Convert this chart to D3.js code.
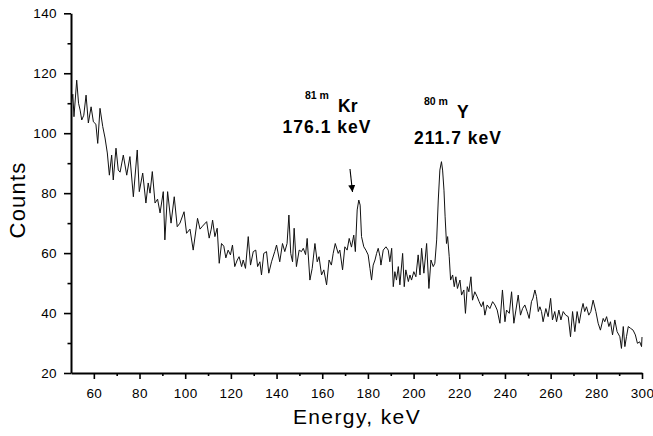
<!DOCTYPE html>
<html>
<head>
<meta charset="utf-8">
<script src="https://d3js.org/d3.v7.min.js"></script>
<style>
  html, body { margin: 0; padding: 0; background: #fff; }
  svg { display: block; font-family: "Liberation Sans", Arial, sans-serif; }
  .axis path, .axis line { stroke: #000; }
  .axis text { font-size: 13.5px; letter-spacing: 0.4px; fill: #000; }
  .note { font-weight: bold; fill: #000; }
</style>
</head>
<body>
<svg id="chart" width="653" height="436"></svg>
<script>
// energy (keV) and counts
var energy = [
  50.2, 50.8, 51.3, 52.5, 53.3, 54.0, 54.7, 55.6, 56.6, 57.6, 58.8, 59.8, 60.9, 61.7, 62.7, 63.9,
  64.9, 65.9, 66.8, 67.8, 68.5, 69.7, 70.7, 71.5, 72.9, 74.4, 75.8, 77.3, 79.0, 79.9, 81.4, 82.8,
  83.8, 84.6, 85.6, 86.8, 87.9, 89.0, 90.4, 91.1, 92.3, 93.8, 95.2, 96.5, 97.7, 99.5, 100.6, 102.1,
  103.5, 105.4, 106.5, 107.6, 109.4, 110.5, 111.4, 112.0, 113.0, 114.0, 114.9, 115.9, 116.9, 117.8,
  118.8, 119.8, 120.7, 121.7, 122.8, 123.6, 124.7, 125.4, 126.4, 127.6, 128.6, 129.8, 130.9, 131.7,
  132.7, 133.4, 134.4, 135.6, 136.6, 137.8, 139.2, 140.0, 141.4, 142.6, 143.6, 144.6, 145.4, 146.2,
  147.0, 147.7, 148.7, 149.9, 150.9, 151.7, 152.7, 153.4, 154.6, 155.6, 156.8, 157.8, 158.6, 159.7,
  160.7, 161.9, 163.0, 164.0, 164.8, 165.7, 167.0, 167.7, 168.9, 169.9, 170.9, 171.8, 172.8, 173.8,
  174.5, 175.3, 176.0, 176.6, 177.2, 178.2, 179.1, 180.1, 180.9, 181.6, 182.3, 183.1, 183.8, 184.5,
  185.3, 185.7, 186.7, 187.9, 188.9, 189.6, 190.4, 191.1, 191.8, 192.5, 193.3, 194.0, 195.2, 195.9,
  196.6, 197.7, 198.4, 199.1, 200.1, 201.0, 202.0, 202.8, 203.5, 204.5, 205.7, 206.7, 207.6, 208.6,
  209.3, 210.1, 210.8, 211.5, 212.2, 212.7, 213.3, 213.8, 214.4, 214.9, 215.6, 216.2, 217.1, 217.8,
  218.5, 219.2, 220.3, 221.0, 222.0, 222.7, 223.5, 224.2, 225.1, 225.8, 226.8, 227.8, 228.7, 229.7,
  230.5, 231.2, 232.2, 233.4, 234.6, 235.6, 236.6, 237.8, 238.9, 240.0, 240.7, 241.9, 242.9, 243.9,
  244.8, 245.8, 246.8, 247.7, 248.7, 249.7, 250.6, 251.6, 252.3, 253.1, 253.8, 254.6, 255.3, 256.0,
  256.7, 257.9, 258.9, 260.0, 260.8, 261.8, 262.6, 263.6, 264.5, 265.5, 266.6, 267.7, 268.7, 269.6,
  270.6, 271.6, 272.5, 273.5, 274.2, 274.9, 275.7, 276.7, 277.6, 278.6, 279.8, 280.8, 281.8, 283.0,
  283.7, 284.5, 285.5, 286.2, 287.1, 288.1, 289.1, 290.3, 291.0, 291.8, 292.5, 293.2, 294.0, 295.0,
  296.1, 297.1, 298.0, 299.0, 299.8, 300.0
];
var counts = [
  110, 113, 105.5, 117.7, 110, 107.7, 104.4, 106, 112.7, 103.4, 108.8, 103.8, 103, 96.6, 108.3, 102.2,
  98.4, 93.4, 86, 92.7, 84.4, 95, 87.7, 87, 92.7, 86, 92.2, 78.8, 94.4, 80.5, 86.7, 76.7,
  83.4, 80, 87.2, 76.7, 78, 73.4, 80.5, 64.4, 80.5, 70, 78.8, 68.8, 70, 73.8, 66.6, 68,
  61, 71.6, 68, 69, 70.5, 65, 68, 71, 65.5, 68.3, 56.6, 63.2, 62.3, 58.4,
  61, 59.4, 62.7, 55.5, 57.7, 58.8, 55.5, 57.7, 54.9, 65.5, 56, 60.5, 61, 55.5,
  57.1, 52.7, 59.9, 60.5, 53.3, 57.1, 60.5, 62.7, 57.1, 63.2, 60.5, 63.2, 72.7, 59.9,
  57.1, 68.3, 55.5, 61, 60.5, 61.6, 59.5, 64.9, 51, 54.9, 63.2, 57.1, 58.8, 52.7,
  54.4, 49.4, 57.7, 56, 59.9, 63.2, 59.9, 61, 54.4, 62.1, 61, 64.9, 62, 66,
  60.5, 74.4, 77.7, 76, 65.5, 62.1, 61, 59.4, 54.9, 51, 56, 57.7, 59.9, 61.6,
  58.8, 56, 61, 62.1, 61, 57.1, 61.6, 48.8, 53.8, 51, 55.5, 49.4, 59.9, 48.8,
  54.4, 50.5, 52.7, 51, 53.8, 52.1, 59.4, 52.7, 61.6, 53.3, 63.2, 48.2, 57.7, 55.5,
  56.6, 64.4, 77.7, 87.7, 90.5, 87.7, 81, 72.1, 63.2, 65.5, 58.8, 51, 52.7, 48.8,
  52.1, 48.2, 51, 46, 47.7, 39.9, 48.8, 47.1, 52.1, 44.3, 47.1, 45.5, 43.8, 42.1,
  43.8, 39.3, 42.7, 41.5, 43.8, 42.7, 41, 36.6, 47.7, 37.1, 41, 39.9, 47.1, 36.6,
  41, 46, 39.3, 41.5, 42.7, 40.5, 38.2, 43.8, 45, 47.7, 45.5, 40.5, 42.1, 40.5,
  37.1, 41.5, 38.8, 44.9, 37.7, 40.5, 37.1, 41, 37.7, 40.5, 39.3, 38.8, 32.1, 40.5,
  33.8, 40.5, 36.6, 41, 43.2, 40.5, 42.1, 39.3, 40.5, 44.3, 40.5, 36.6, 34.3, 38.2,
  37.1, 38.8, 35.5, 37.1, 32.7, 37.7, 33.8, 32.1, 28.2, 35.5, 28.8, 32.1, 35.5, 34.9,
  34.3, 32.7, 29.9, 30.4, 28.8, 32
];

var xMajor = [60, 80, 100, 120, 140, 160, 180, 200, 220, 240, 260, 280, 300];
var xMinor = [70, 90, 110, 130, 150, 170, 190, 210, 230, 250, 270, 290];
var yMajor = [20, 40, 60, 80, 100, 120, 140];
var yMinor = [30, 50, 70, 90, 110, 130];

var svg = d3.select('#chart');

var x = d3.scaleLinear().domain([50, 300]).range([71, 642]);
var y = d3.scaleLinear().domain([20, 140]).range([373, 13.3]);

// minor ticks first, then the major axes on top
svg.append('g').attr('class', 'axis')
    .attr('transform', 'translate(0,373)')
    .call(d3.axisBottom(x).tickValues(xMinor).tickSize(3).tickFormat(''))
    .call(function(g) { g.select('.domain').remove(); })
    .selectAll('line').attr('stroke-width', 1.6);

svg.append('g').attr('class', 'axis')
    .attr('transform', 'translate(71,0)')
    .call(d3.axisLeft(y).tickValues(yMinor).tickSize(3.5).tickFormat(''))
    .call(function(g) { g.select('.domain').remove(); })
    .selectAll('line').attr('stroke-width', 1.6);

var xAxis = svg.append('g').attr('class', 'axis')
    .attr('transform', 'translate(0,373)')
    .call(d3.axisBottom(x).tickValues(xMajor).tickSize(6).tickSizeOuter(0).tickPadding(9));
xAxis.select('.domain').attr('stroke-width', 2);
xAxis.selectAll('line').attr('stroke-width', 1.6);

var yAxis = svg.append('g').attr('class', 'axis')
    .attr('transform', 'translate(71,0)')
    .call(d3.axisLeft(y).tickValues(yMajor).tickSize(7).tickSizeOuter(0).tickPadding(7));
yAxis.select('.domain').attr('stroke-width', 2);
yAxis.selectAll('line').attr('stroke-width', 1.6);

// spectrum line
var line = d3.line()
    .x(function(d, i) { return x(energy[i]); })
    .y(function(d) { return y(d); });

svg.append('path')
    .datum(counts)
    .attr('d', line)
    .attr('fill', 'none')
    .attr('stroke', '#111')
    .attr('stroke-width', 1);

// axis titles
svg.append('text')
    .attr('x', 357).attr('y', 424)
    .attr('text-anchor', 'middle')
    .style('font-size', '21px').style('letter-spacing', '1.4px')
    .text('Energy, keV');

svg.append('text')
    .attr('transform', 'translate(25,200) rotate(-90)')
    .attr('text-anchor', 'middle')
    .style('font-size', '22px').style('letter-spacing', '1.2px')
    .text('Counts');

// peak labels
function peakLabel(sup, sym, supX, supY, symX, symY, energyText, ex, ey) {
    svg.append('text').attr('class', 'note')
        .attr('x', supX).attr('y', supY)
        .style('font-size', '10.5px')
        .text(sup);
    svg.append('text').attr('class', 'note')
        .attr('x', symX).attr('y', symY)
        .style('font-size', '17.5px')
        .text(sym);
    svg.append('text').attr('class', 'note')
        .attr('x', ex).attr('y', ey)
        .attr('text-anchor', 'middle')
        .style('font-size', '17.5px').style('letter-spacing', '1px')
        .text(energyText);
}
peakLabel('81 m', 'Kr', 305, 98.5, 338, 111.7, '176.1 keV', 327, 133.3);
peakLabel('80 m', 'Y', 424, 105, 457, 117.7, '211.7 keV', 458, 144.3);

// arrow to the Kr peak
svg.append('defs').append('marker')
    .attr('id', 'head')
    .attr('viewBox', '0 0 10 10')
    .attr('refX', 10).attr('refY', 5)
    .attr('markerWidth', 7).attr('markerHeight', 7)
    .attr('markerUnits', 'userSpaceOnUse')
    .attr('orient', 'auto')
    .append('path').attr('d', 'M0,0 L10,5 L0,10 Z').attr('fill', '#000');

svg.append('line')
    .attr('x1', 350).attr('y1', 169)
    .attr('x2', 352.5).attr('y2', 192)
    .attr('stroke', '#000').attr('stroke-width', 1.1)
    .attr('marker-end', 'url(#head)');
</script>
</body>
</html>
